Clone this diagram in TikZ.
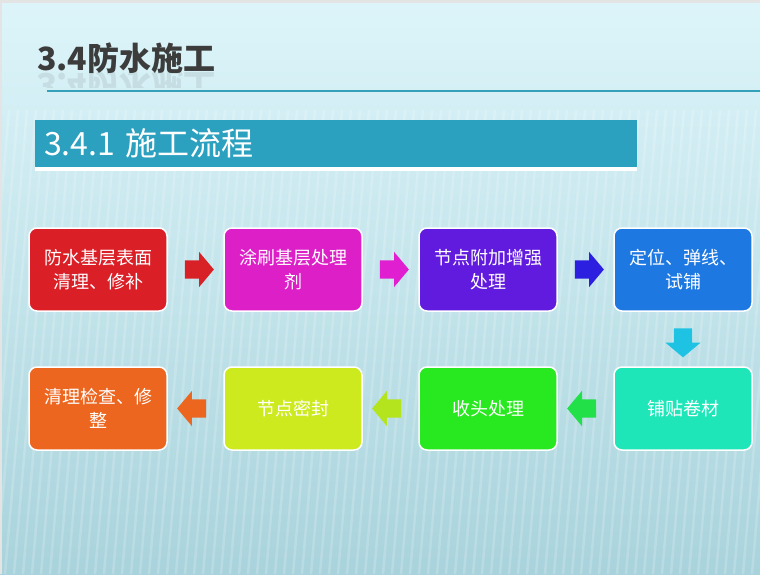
\documentclass[tikz,border=0pt]{standalone}
\usepackage{fontspec}
\setmainfont{Noto Sans CJK SC}
\usetikzlibrary{positioning,calc,shapes.arrows}
\definecolor{bgtop}{HTML}{DDF5FA}
\definecolor{bgbot}{HTML}{A9D3DC}
\definecolor{framegray}{HTML}{E4E4E4}
\definecolor{titlegray}{HTML}{3C3C3C}
\definecolor{barblue}{HTML}{2CA0BF}
\definecolor{rulecol}{HTML}{35A0BA}
\definecolor{c1}{HTML}{DB1F27}
\definecolor{c2}{HTML}{DD1FC8}
\definecolor{c3}{HTML}{611BDF}
\definecolor{c4}{HTML}{1E78E2}
\definecolor{c5}{HTML}{1EE6B8}
\definecolor{c6}{HTML}{28E81F}
\definecolor{c7}{HTML}{CCEA1E}
\definecolor{c8}{HTML}{EC6620}
\definecolor{a1}{HTML}{D82027}
\definecolor{a2}{HTML}{E020D0}
\definecolor{a3}{HTML}{2C1FE0}
\definecolor{a4}{HTML}{1EC3E3}
\definecolor{a5}{HTML}{22E048}
\definecolor{a6}{HTML}{B4E41E}
\definecolor{a7}{HTML}{EC6620}
\tikzset{
    %Define style for boxes
    punkt/.style={
           rectangle,
           rounded corners=8pt,
           draw=white, line width=1.5pt,
           minimum width=138pt,
           minimum height=83pt,
           text width=128pt,
           font=\fontsize{18}{24}\selectfont,
           text=white,
           align=center},
    %Define style for the banner
    bar/.style={
           rectangle,
           fill=barblue,
           minimum width=602pt,
           minimum height=47pt,
           inner xsep=9pt,
           text width=584pt,
           align=left,
           font=\fontsize{32}{36}\selectfont,
           text=white},
    % Define block arrow style
    pil/.style={
           single arrow,
           inner xsep=0pt,
           inner ysep=9pt,
           minimum height=29pt,
           minimum width=35pt,
           single arrow head extend=8.5pt,
           single arrow tip angle=100},
    pildown/.style={
           pil,
           shape border rotate=270,
           inner xsep=9pt,
           inner ysep=0pt},
    title/.style={
           anchor=base west,
           inner sep=0pt,
           font=\fontsize{32}{36}\selectfont\bfseries,
           text=titlegray}
}
\begin{document}
\begin{tikzpicture}[x=1pt,y=-1pt,node distance=54.5pt and 55.5pt]
 %background
\useasboundingbox (0,0) rectangle (760,574);
\shade[top color=bgtop, bottom color=bgbot] (0,0) rectangle (760,574);
\foreach \x in {0,9,...,830}
  \draw[white, opacity=.18, line width=2.5pt] (\x-40,574) -- (\x,110);
\fill[framegray] (0,0) rectangle (760,3);
\fill[framegray] (0,0) rectangle (2,574);
 %titles
\node[title] (t) at (37,70) {3.4防水施工};
\begin{scope}
\clip (30,72) rectangle (230,87);
\node[title, yscale=-1, transform shape, opacity=.1] (tr) at (37,73) {3.4防水施工};
\end{scope}
\draw[rulecol, line width=1.2pt] (47,91) -- (760,91);
\fill[white] (35,120) rectangle (637,171);
\node[bar, anchor=north west] (b) at (35,120) {3.4.1 施工流程};
 %nodes
\node[punkt, fill=c1] (1) at (98,269.5) {防水基层表面\\清理、修补};
\node[punkt, fill=c2, right=of 1] (2) {涂刷基层处理\\剂};
\node[punkt, fill=c3, right=of 2] (3) {节点附加增强\\处理};
\node[punkt, fill=c4, right=of 3] (4) {定位、弹线、\\试铺};
\node[punkt, fill=c5, below=of 4] (5) {铺贴卷材};
\node[punkt, fill=c6, left=of 5] (6) {收头处理};
\node[punkt, fill=c7, left=of 6] (7) {节点密封};
\node[punkt, fill=c8, left=of 7] (8) {清理检查、修\\整};
 %arrows
\node[pil, fill=a1] (p1) at ($(1.east)!.5!(2.west)$) {};
\node[pil, fill=a2] (p2) at ($(2.east)!.5!(3.west)$) {};
\node[pil, fill=a3] (p3) at ($(3.east)!.5!(4.west)$) {};
\node[pildown, fill=a4] (p4) at ($(4.south)!.5!(5.north)$) {};
\node[pil, fill=a5, shape border rotate=180] (p5) at ($(5.west)!.5!(6.east)$) {};
\node[pil, fill=a6, shape border rotate=180] (p6) at ($(6.west)!.5!(7.east)$) {};
\node[pil, fill=a7, shape border rotate=180] (p7) at ($(7.west)!.5!(8.east)$) {};
\end{tikzpicture}
\end{document}
